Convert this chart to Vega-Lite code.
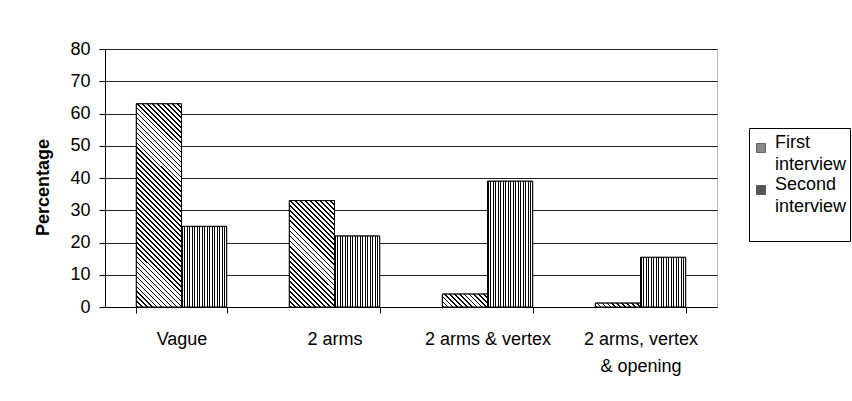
{
  "$schema": "https://vega.github.io/schema/vega-lite/v6.json",
  "width": 612,
  "height": 258,
  "autosize": {"type": "none"},
  "padding": {"left": 105, "top": 49, "right": 135, "bottom": 94},
  "background": "white",
  "config": {
    "font": "Liberation Sans",
    "view": {"stroke": "#b8b8b8"},
    "style": {"guide-label": {"lineHeight": 22}}
  },
  "data": {
    "values": [
      {"category": "Vague", "series": "First interview", "value": 63},
      {"category": "Vague", "series": "Second interview", "value": 25},
      {"category": "2 arms", "series": "First interview", "value": 33},
      {"category": "2 arms", "series": "Second interview", "value": 22},
      {"category": "2 arms & vertex", "series": "First interview", "value": 4},
      {"category": "2 arms & vertex", "series": "Second interview", "value": 39},
      {"category": "2 arms, vertex & opening", "series": "First interview", "value": 1.2},
      {"category": "2 arms, vertex & opening", "series": "Second interview", "value": 15.4}
    ]
  },
  "encoding": {
    "x": {
      "field": "category",
      "type": "nominal",
      "sort": ["Vague", "2 arms", "2 arms & vertex", "2 arms, vertex & opening"],
      "scale": {"paddingInner": 0.41, "paddingOuter": 0.205},
      "axis": {
        "title": null,
        "labelAngle": 0,
        "labelFontSize": 18,
        "labelColor": "black",
        "labelBaseline": "top",
        "labelPadding": 17,
        "labelLineHeight": 27,
        "labelExpr": "datum.label == '2 arms, vertex & opening' ? ['2 arms, vertex', '& opening'] : datum.label",
        "tickBand": "extent",
        "tickSize": 6,
        "tickColor": "black",
        "domainColor": "black"
      }
    },
    "xOffset": {"field": "series", "sort": ["First interview", "Second interview"]},
    "y": {
      "field": "value",
      "type": "quantitative",
      "scale": {"domain": [0, 80]},
      "axis": {
        "title": "Percentage",
        "titleFontSize": 18,
        "titleFontWeight": "bold",
        "titleColor": "black",
        "titleAngle": -90,
        "titleAlign": "center",
        "titleBaseline": "middle",
        "titleX": -62,
        "titleY": 138,
        "values": [0, 10, 20, 30, 40, 50, 60, 70, 80],
        "labelFontSize": 18,
        "labelColor": "black",
        "labelPadding": 9,
        "tickSize": 6,
        "tickColor": "black",
        "domainColor": "black",
        "gridColor": "#222",
        "gridWidth": 1
      }
    }
  },
  "layer": [
    {
      "mark": {"type": "bar", "stroke": "black", "strokeWidth": 1},
      "encoding": {
        "fill": {
          "field": "series",
          "type": "nominal",
          "sort": ["First interview", "Second interview"],
          "scale": {"range": ["#888888", "#555555"]},
          "legend": {
            "title": " ",
            "titleFontSize": 1,
            "titlePadding": 7,
            "orient": "none",
            "legendX": 644,
            "legendY": 79,
            "strokeColor": "black",
            "fillColor": "white",
            "padding": 3,
            "symbolType": "square",
            "symbolSize": 80,
            "symbolStrokeColor": "black",
            "symbolStrokeWidth": 0.5,
            "labelFontSize": 18,
            "labelColor": "black",
            "labelBaseline": "alphabetic",
            "labelOffset": 5,
            "rowPadding": 2,
            "labelExpr": "datum.label == 'Second interview' ? ['Second', 'interview', ''] : split(datum.label, ' ')"
          }
        }
      }
    },
    {
      "transform": [{"filter": "datum.series === 'Second interview'"}],
      "mark": {
        "type": "bar",
        "stroke": "black",
        "strokeWidth": 1,
        "fill": {
          "gradient": "linear",
          "x1": 0, "y1": 0, "x2": 1, "y2": 0,
          "stops": [
            {"offset": 0, "color": "#000"}, {"offset": 0.0278, "color": "#000"}, {"offset": 0.0278, "color": "#fff"}, {"offset": 0.0556, "color": "#fff"},
            {"offset": 0.0556, "color": "#000"}, {"offset": 0.0833, "color": "#000"}, {"offset": 0.0833, "color": "#fff"}, {"offset": 0.1111, "color": "#fff"},
            {"offset": 0.1111, "color": "#000"}, {"offset": 0.1389, "color": "#000"}, {"offset": 0.1389, "color": "#fff"}, {"offset": 0.1667, "color": "#fff"},
            {"offset": 0.1667, "color": "#000"}, {"offset": 0.1944, "color": "#000"}, {"offset": 0.1944, "color": "#fff"}, {"offset": 0.2222, "color": "#fff"},
            {"offset": 0.2222, "color": "#000"}, {"offset": 0.25, "color": "#000"}, {"offset": 0.25, "color": "#fff"}, {"offset": 0.2778, "color": "#fff"},
            {"offset": 0.2778, "color": "#000"}, {"offset": 0.3056, "color": "#000"}, {"offset": 0.3056, "color": "#fff"}, {"offset": 0.3333, "color": "#fff"},
            {"offset": 0.3333, "color": "#000"}, {"offset": 0.3611, "color": "#000"}, {"offset": 0.3611, "color": "#fff"}, {"offset": 0.3889, "color": "#fff"},
            {"offset": 0.3889, "color": "#000"}, {"offset": 0.4167, "color": "#000"}, {"offset": 0.4167, "color": "#fff"}, {"offset": 0.4444, "color": "#fff"},
            {"offset": 0.4444, "color": "#000"}, {"offset": 0.4722, "color": "#000"}, {"offset": 0.4722, "color": "#fff"}, {"offset": 0.5, "color": "#fff"},
            {"offset": 0.5, "color": "#000"}, {"offset": 0.5278, "color": "#000"}, {"offset": 0.5278, "color": "#fff"}, {"offset": 0.5556, "color": "#fff"},
            {"offset": 0.5556, "color": "#000"}, {"offset": 0.5833, "color": "#000"}, {"offset": 0.5833, "color": "#fff"}, {"offset": 0.6111, "color": "#fff"},
            {"offset": 0.6111, "color": "#000"}, {"offset": 0.6389, "color": "#000"}, {"offset": 0.6389, "color": "#fff"}, {"offset": 0.6667, "color": "#fff"},
            {"offset": 0.6667, "color": "#000"}, {"offset": 0.6944, "color": "#000"}, {"offset": 0.6944, "color": "#fff"}, {"offset": 0.7222, "color": "#fff"},
            {"offset": 0.7222, "color": "#000"}, {"offset": 0.75, "color": "#000"}, {"offset": 0.75, "color": "#fff"}, {"offset": 0.7778, "color": "#fff"},
            {"offset": 0.7778, "color": "#000"}, {"offset": 0.8056, "color": "#000"}, {"offset": 0.8056, "color": "#fff"}, {"offset": 0.8333, "color": "#fff"},
            {"offset": 0.8333, "color": "#000"}, {"offset": 0.8611, "color": "#000"}, {"offset": 0.8611, "color": "#fff"}, {"offset": 0.8889, "color": "#fff"},
            {"offset": 0.8889, "color": "#000"}, {"offset": 0.9167, "color": "#000"}, {"offset": 0.9167, "color": "#fff"}, {"offset": 0.9444, "color": "#fff"},
            {"offset": 0.9444, "color": "#000"}, {"offset": 0.9722, "color": "#000"}, {"offset": 0.9722, "color": "#fff"}, {"offset": 1, "color": "#fff"}
          ]
        }
      }
    },
    {
      "transform": [{"filter": "datum.series === 'First interview' && datum.category === 'Vague'"}],
      "mark": {
        "type": "bar",
        "stroke": "black",
        "strokeWidth": 1,
        "fill": {
          "gradient": "linear",
          "x1": 0, "y1": 1, "x2": 0.2585, "y2": -0.1647,
          "stops": [
            {"offset": 0, "color": "#000"}, {"offset": 0.007, "color": "#000"}, {"offset": 0.007, "color": "#fff"}, {"offset": 0.02, "color": "#fff"},
            {"offset": 0.02, "color": "#000"}, {"offset": 0.027, "color": "#000"}, {"offset": 0.027, "color": "#fff"}, {"offset": 0.04, "color": "#fff"},
            {"offset": 0.04, "color": "#000"}, {"offset": 0.047, "color": "#000"}, {"offset": 0.047, "color": "#fff"}, {"offset": 0.06, "color": "#fff"},
            {"offset": 0.06, "color": "#000"}, {"offset": 0.067, "color": "#000"}, {"offset": 0.067, "color": "#fff"}, {"offset": 0.08, "color": "#fff"},
            {"offset": 0.08, "color": "#000"}, {"offset": 0.087, "color": "#000"}, {"offset": 0.087, "color": "#fff"}, {"offset": 0.1, "color": "#fff"},
            {"offset": 0.1, "color": "#000"}, {"offset": 0.107, "color": "#000"}, {"offset": 0.107, "color": "#fff"}, {"offset": 0.12, "color": "#fff"},
            {"offset": 0.12, "color": "#000"}, {"offset": 0.127, "color": "#000"}, {"offset": 0.127, "color": "#fff"}, {"offset": 0.14, "color": "#fff"},
            {"offset": 0.14, "color": "#000"}, {"offset": 0.147, "color": "#000"}, {"offset": 0.147, "color": "#fff"}, {"offset": 0.16, "color": "#fff"},
            {"offset": 0.16, "color": "#000"}, {"offset": 0.167, "color": "#000"}, {"offset": 0.167, "color": "#fff"}, {"offset": 0.18, "color": "#fff"},
            {"offset": 0.18, "color": "#000"}, {"offset": 0.187, "color": "#000"}, {"offset": 0.187, "color": "#fff"}, {"offset": 0.2, "color": "#fff"},
            {"offset": 0.2, "color": "#000"}, {"offset": 0.207, "color": "#000"}, {"offset": 0.207, "color": "#fff"}, {"offset": 0.22, "color": "#fff"},
            {"offset": 0.22, "color": "#000"}, {"offset": 0.227, "color": "#000"}, {"offset": 0.227, "color": "#fff"}, {"offset": 0.24, "color": "#fff"},
            {"offset": 0.24, "color": "#000"}, {"offset": 0.247, "color": "#000"}, {"offset": 0.247, "color": "#fff"}, {"offset": 0.26, "color": "#fff"},
            {"offset": 0.26, "color": "#000"}, {"offset": 0.267, "color": "#000"}, {"offset": 0.267, "color": "#fff"}, {"offset": 0.28, "color": "#fff"},
            {"offset": 0.28, "color": "#000"}, {"offset": 0.287, "color": "#000"}, {"offset": 0.287, "color": "#fff"}, {"offset": 0.3, "color": "#fff"},
            {"offset": 0.3, "color": "#000"}, {"offset": 0.307, "color": "#000"}, {"offset": 0.307, "color": "#fff"}, {"offset": 0.32, "color": "#fff"},
            {"offset": 0.32, "color": "#000"}, {"offset": 0.327, "color": "#000"}, {"offset": 0.327, "color": "#fff"}, {"offset": 0.34, "color": "#fff"},
            {"offset": 0.34, "color": "#000"}, {"offset": 0.347, "color": "#000"}, {"offset": 0.347, "color": "#fff"}, {"offset": 0.36, "color": "#fff"},
            {"offset": 0.36, "color": "#000"}, {"offset": 0.367, "color": "#000"}, {"offset": 0.367, "color": "#fff"}, {"offset": 0.38, "color": "#fff"},
            {"offset": 0.38, "color": "#000"}, {"offset": 0.387, "color": "#000"}, {"offset": 0.387, "color": "#fff"}, {"offset": 0.4, "color": "#fff"},
            {"offset": 0.4, "color": "#000"}, {"offset": 0.407, "color": "#000"}, {"offset": 0.407, "color": "#fff"}, {"offset": 0.42, "color": "#fff"},
            {"offset": 0.42, "color": "#000"}, {"offset": 0.427, "color": "#000"}, {"offset": 0.427, "color": "#fff"}, {"offset": 0.44, "color": "#fff"},
            {"offset": 0.44, "color": "#000"}, {"offset": 0.447, "color": "#000"}, {"offset": 0.447, "color": "#fff"}, {"offset": 0.46, "color": "#fff"},
            {"offset": 0.46, "color": "#000"}, {"offset": 0.467, "color": "#000"}, {"offset": 0.467, "color": "#fff"}, {"offset": 0.48, "color": "#fff"},
            {"offset": 0.48, "color": "#000"}, {"offset": 0.487, "color": "#000"}, {"offset": 0.487, "color": "#fff"}, {"offset": 0.5, "color": "#fff"},
            {"offset": 0.5, "color": "#000"}, {"offset": 0.507, "color": "#000"}, {"offset": 0.507, "color": "#fff"}, {"offset": 0.52, "color": "#fff"},
            {"offset": 0.52, "color": "#000"}, {"offset": 0.527, "color": "#000"}, {"offset": 0.527, "color": "#fff"}, {"offset": 0.54, "color": "#fff"},
            {"offset": 0.54, "color": "#000"}, {"offset": 0.547, "color": "#000"}, {"offset": 0.547, "color": "#fff"}, {"offset": 0.56, "color": "#fff"},
            {"offset": 0.56, "color": "#000"}, {"offset": 0.567, "color": "#000"}, {"offset": 0.567, "color": "#fff"}, {"offset": 0.58, "color": "#fff"},
            {"offset": 0.58, "color": "#000"}, {"offset": 0.587, "color": "#000"}, {"offset": 0.587, "color": "#fff"}, {"offset": 0.6, "color": "#fff"},
            {"offset": 0.6, "color": "#000"}, {"offset": 0.607, "color": "#000"}, {"offset": 0.607, "color": "#fff"}, {"offset": 0.62, "color": "#fff"},
            {"offset": 0.62, "color": "#000"}, {"offset": 0.627, "color": "#000"}, {"offset": 0.627, "color": "#fff"}, {"offset": 0.64, "color": "#fff"},
            {"offset": 0.64, "color": "#000"}, {"offset": 0.647, "color": "#000"}, {"offset": 0.647, "color": "#fff"}, {"offset": 0.66, "color": "#fff"},
            {"offset": 0.66, "color": "#000"}, {"offset": 0.667, "color": "#000"}, {"offset": 0.667, "color": "#fff"}, {"offset": 0.68, "color": "#fff"},
            {"offset": 0.68, "color": "#000"}, {"offset": 0.687, "color": "#000"}, {"offset": 0.687, "color": "#fff"}, {"offset": 0.7, "color": "#fff"},
            {"offset": 0.7, "color": "#000"}, {"offset": 0.707, "color": "#000"}, {"offset": 0.707, "color": "#fff"}, {"offset": 0.72, "color": "#fff"},
            {"offset": 0.72, "color": "#000"}, {"offset": 0.727, "color": "#000"}, {"offset": 0.727, "color": "#fff"}, {"offset": 0.74, "color": "#fff"},
            {"offset": 0.74, "color": "#000"}, {"offset": 0.747, "color": "#000"}, {"offset": 0.747, "color": "#fff"}, {"offset": 0.76, "color": "#fff"},
            {"offset": 0.76, "color": "#000"}, {"offset": 0.767, "color": "#000"}, {"offset": 0.767, "color": "#fff"}, {"offset": 0.78, "color": "#fff"},
            {"offset": 0.78, "color": "#000"}, {"offset": 0.787, "color": "#000"}, {"offset": 0.787, "color": "#fff"}, {"offset": 0.8, "color": "#fff"},
            {"offset": 0.8, "color": "#000"}, {"offset": 0.807, "color": "#000"}, {"offset": 0.807, "color": "#fff"}, {"offset": 0.82, "color": "#fff"},
            {"offset": 0.82, "color": "#000"}, {"offset": 0.827, "color": "#000"}, {"offset": 0.827, "color": "#fff"}, {"offset": 0.84, "color": "#fff"},
            {"offset": 0.84, "color": "#000"}, {"offset": 0.847, "color": "#000"}, {"offset": 0.847, "color": "#fff"}, {"offset": 0.86, "color": "#fff"},
            {"offset": 0.86, "color": "#000"}, {"offset": 0.867, "color": "#000"}, {"offset": 0.867, "color": "#fff"}, {"offset": 0.88, "color": "#fff"},
            {"offset": 0.88, "color": "#000"}, {"offset": 0.887, "color": "#000"}, {"offset": 0.887, "color": "#fff"}, {"offset": 0.9, "color": "#fff"},
            {"offset": 0.9, "color": "#000"}, {"offset": 0.907, "color": "#000"}, {"offset": 0.907, "color": "#fff"}, {"offset": 0.92, "color": "#fff"},
            {"offset": 0.92, "color": "#000"}, {"offset": 0.927, "color": "#000"}, {"offset": 0.927, "color": "#fff"}, {"offset": 0.94, "color": "#fff"},
            {"offset": 0.94, "color": "#000"}, {"offset": 0.947, "color": "#000"}, {"offset": 0.947, "color": "#fff"}, {"offset": 0.96, "color": "#fff"},
            {"offset": 0.96, "color": "#000"}, {"offset": 0.967, "color": "#000"}, {"offset": 0.967, "color": "#fff"}, {"offset": 0.98, "color": "#fff"},
            {"offset": 0.98, "color": "#000"}, {"offset": 0.987, "color": "#000"}, {"offset": 0.987, "color": "#fff"}, {"offset": 1, "color": "#fff"}
          ]
        }
      }
    },
    {
      "transform": [{"filter": "datum.series === 'First interview' && datum.category === '2 arms'"}],
      "mark": {
        "type": "bar",
        "stroke": "black",
        "strokeWidth": 1,
        "fill": {
          "gradient": "linear",
          "x1": 0, "y1": 1, "x2": 0.5116, "y2": -0.207,
          "stops": [
            {"offset": 0, "color": "#000"}, {"offset": 0.0117, "color": "#000"}, {"offset": 0.0117, "color": "#fff"}, {"offset": 0.0333, "color": "#fff"},
            {"offset": 0.0333, "color": "#000"}, {"offset": 0.045, "color": "#000"}, {"offset": 0.045, "color": "#fff"}, {"offset": 0.0667, "color": "#fff"},
            {"offset": 0.0667, "color": "#000"}, {"offset": 0.0784, "color": "#000"}, {"offset": 0.0784, "color": "#fff"}, {"offset": 0.1, "color": "#fff"},
            {"offset": 0.1, "color": "#000"}, {"offset": 0.1117, "color": "#000"}, {"offset": 0.1117, "color": "#fff"}, {"offset": 0.1333, "color": "#fff"},
            {"offset": 0.1333, "color": "#000"}, {"offset": 0.145, "color": "#000"}, {"offset": 0.145, "color": "#fff"}, {"offset": 0.1667, "color": "#fff"},
            {"offset": 0.1667, "color": "#000"}, {"offset": 0.1784, "color": "#000"}, {"offset": 0.1784, "color": "#fff"}, {"offset": 0.2, "color": "#fff"},
            {"offset": 0.2, "color": "#000"}, {"offset": 0.2117, "color": "#000"}, {"offset": 0.2117, "color": "#fff"}, {"offset": 0.2333, "color": "#fff"},
            {"offset": 0.2333, "color": "#000"}, {"offset": 0.245, "color": "#000"}, {"offset": 0.245, "color": "#fff"}, {"offset": 0.2667, "color": "#fff"},
            {"offset": 0.2667, "color": "#000"}, {"offset": 0.2784, "color": "#000"}, {"offset": 0.2784, "color": "#fff"}, {"offset": 0.3, "color": "#fff"},
            {"offset": 0.3, "color": "#000"}, {"offset": 0.3117, "color": "#000"}, {"offset": 0.3117, "color": "#fff"}, {"offset": 0.3333, "color": "#fff"},
            {"offset": 0.3333, "color": "#000"}, {"offset": 0.345, "color": "#000"}, {"offset": 0.345, "color": "#fff"}, {"offset": 0.3667, "color": "#fff"},
            {"offset": 0.3667, "color": "#000"}, {"offset": 0.3784, "color": "#000"}, {"offset": 0.3784, "color": "#fff"}, {"offset": 0.4, "color": "#fff"},
            {"offset": 0.4, "color": "#000"}, {"offset": 0.4117, "color": "#000"}, {"offset": 0.4117, "color": "#fff"}, {"offset": 0.4333, "color": "#fff"},
            {"offset": 0.4333, "color": "#000"}, {"offset": 0.445, "color": "#000"}, {"offset": 0.445, "color": "#fff"}, {"offset": 0.4667, "color": "#fff"},
            {"offset": 0.4667, "color": "#000"}, {"offset": 0.4784, "color": "#000"}, {"offset": 0.4784, "color": "#fff"}, {"offset": 0.5, "color": "#fff"},
            {"offset": 0.5, "color": "#000"}, {"offset": 0.5117, "color": "#000"}, {"offset": 0.5117, "color": "#fff"}, {"offset": 0.5333, "color": "#fff"},
            {"offset": 0.5333, "color": "#000"}, {"offset": 0.545, "color": "#000"}, {"offset": 0.545, "color": "#fff"}, {"offset": 0.5667, "color": "#fff"},
            {"offset": 0.5667, "color": "#000"}, {"offset": 0.5784, "color": "#000"}, {"offset": 0.5784, "color": "#fff"}, {"offset": 0.6, "color": "#fff"},
            {"offset": 0.6, "color": "#000"}, {"offset": 0.6117, "color": "#000"}, {"offset": 0.6117, "color": "#fff"}, {"offset": 0.6333, "color": "#fff"},
            {"offset": 0.6333, "color": "#000"}, {"offset": 0.645, "color": "#000"}, {"offset": 0.645, "color": "#fff"}, {"offset": 0.6667, "color": "#fff"},
            {"offset": 0.6667, "color": "#000"}, {"offset": 0.6784, "color": "#000"}, {"offset": 0.6784, "color": "#fff"}, {"offset": 0.7, "color": "#fff"},
            {"offset": 0.7, "color": "#000"}, {"offset": 0.7117, "color": "#000"}, {"offset": 0.7117, "color": "#fff"}, {"offset": 0.7333, "color": "#fff"},
            {"offset": 0.7333, "color": "#000"}, {"offset": 0.745, "color": "#000"}, {"offset": 0.745, "color": "#fff"}, {"offset": 0.7667, "color": "#fff"},
            {"offset": 0.7667, "color": "#000"}, {"offset": 0.7784, "color": "#000"}, {"offset": 0.7784, "color": "#fff"}, {"offset": 0.8, "color": "#fff"},
            {"offset": 0.8, "color": "#000"}, {"offset": 0.8117, "color": "#000"}, {"offset": 0.8117, "color": "#fff"}, {"offset": 0.8333, "color": "#fff"},
            {"offset": 0.8333, "color": "#000"}, {"offset": 0.845, "color": "#000"}, {"offset": 0.845, "color": "#fff"}, {"offset": 0.8667, "color": "#fff"},
            {"offset": 0.8667, "color": "#000"}, {"offset": 0.8784, "color": "#000"}, {"offset": 0.8784, "color": "#fff"}, {"offset": 0.9, "color": "#fff"},
            {"offset": 0.9, "color": "#000"}, {"offset": 0.9117, "color": "#000"}, {"offset": 0.9117, "color": "#fff"}, {"offset": 0.9333, "color": "#fff"},
            {"offset": 0.9333, "color": "#000"}, {"offset": 0.945, "color": "#000"}, {"offset": 0.945, "color": "#fff"}, {"offset": 0.9667, "color": "#fff"},
            {"offset": 0.9667, "color": "#000"}, {"offset": 0.9784, "color": "#000"}, {"offset": 0.9784, "color": "#fff"}, {"offset": 1, "color": "#fff"}
          ]
        }
      }
    },
    {
      "transform": [{"filter": "datum.series === 'First interview' && datum.category === '2 arms & vertex'"}],
      "mark": {
        "type": "bar",
        "stroke": "black",
        "strokeWidth": 1,
        "fill": {
          "gradient": "linear",
          "x1": 0, "y1": 1, "x2": 1.1888, "y2": 0.66,
          "stops": [
            {"offset": 0, "color": "#000"}, {"offset": 0.0292, "color": "#000"}, {"offset": 0.0292, "color": "#fff"}, {"offset": 0.0833, "color": "#fff"},
            {"offset": 0.0833, "color": "#000"}, {"offset": 0.1125, "color": "#000"}, {"offset": 0.1125, "color": "#fff"}, {"offset": 0.1667, "color": "#fff"},
            {"offset": 0.1667, "color": "#000"}, {"offset": 0.1959, "color": "#000"}, {"offset": 0.1959, "color": "#fff"}, {"offset": 0.25, "color": "#fff"},
            {"offset": 0.25, "color": "#000"}, {"offset": 0.2792, "color": "#000"}, {"offset": 0.2792, "color": "#fff"}, {"offset": 0.3333, "color": "#fff"},
            {"offset": 0.3333, "color": "#000"}, {"offset": 0.3625, "color": "#000"}, {"offset": 0.3625, "color": "#fff"}, {"offset": 0.4167, "color": "#fff"},
            {"offset": 0.4167, "color": "#000"}, {"offset": 0.4459, "color": "#000"}, {"offset": 0.4459, "color": "#fff"}, {"offset": 0.5, "color": "#fff"},
            {"offset": 0.5, "color": "#000"}, {"offset": 0.5292, "color": "#000"}, {"offset": 0.5292, "color": "#fff"}, {"offset": 0.5833, "color": "#fff"},
            {"offset": 0.5833, "color": "#000"}, {"offset": 0.6125, "color": "#000"}, {"offset": 0.6125, "color": "#fff"}, {"offset": 0.6667, "color": "#fff"},
            {"offset": 0.6667, "color": "#000"}, {"offset": 0.6959, "color": "#000"}, {"offset": 0.6959, "color": "#fff"}, {"offset": 0.75, "color": "#fff"},
            {"offset": 0.75, "color": "#000"}, {"offset": 0.7792, "color": "#000"}, {"offset": 0.7792, "color": "#fff"}, {"offset": 0.8333, "color": "#fff"},
            {"offset": 0.8333, "color": "#000"}, {"offset": 0.8625, "color": "#000"}, {"offset": 0.8625, "color": "#fff"}, {"offset": 0.9167, "color": "#fff"},
            {"offset": 0.9167, "color": "#000"}, {"offset": 0.9459, "color": "#000"}, {"offset": 0.9459, "color": "#fff"}, {"offset": 1, "color": "#fff"}
          ]
        }
      }
    },
    {
      "transform": [{"filter": "datum.series === 'First interview' && datum.category === '2 arms, vertex & opening'"}],
      "mark": {
        "type": "bar",
        "stroke": "black",
        "strokeWidth": 1,
        "fill": {
          "gradient": "linear",
          "x1": 0, "y1": 1, "x2": 1.0786, "y2": 0.9067,
          "stops": [
            {"offset": 0, "color": "#000"}, {"offset": 0.035, "color": "#000"}, {"offset": 0.035, "color": "#fff"}, {"offset": 0.1, "color": "#fff"},
            {"offset": 0.1, "color": "#000"}, {"offset": 0.135, "color": "#000"}, {"offset": 0.135, "color": "#fff"}, {"offset": 0.2, "color": "#fff"},
            {"offset": 0.2, "color": "#000"}, {"offset": 0.235, "color": "#000"}, {"offset": 0.235, "color": "#fff"}, {"offset": 0.3, "color": "#fff"},
            {"offset": 0.3, "color": "#000"}, {"offset": 0.335, "color": "#000"}, {"offset": 0.335, "color": "#fff"}, {"offset": 0.4, "color": "#fff"},
            {"offset": 0.4, "color": "#000"}, {"offset": 0.435, "color": "#000"}, {"offset": 0.435, "color": "#fff"}, {"offset": 0.5, "color": "#fff"},
            {"offset": 0.5, "color": "#000"}, {"offset": 0.535, "color": "#000"}, {"offset": 0.535, "color": "#fff"}, {"offset": 0.6, "color": "#fff"},
            {"offset": 0.6, "color": "#000"}, {"offset": 0.635, "color": "#000"}, {"offset": 0.635, "color": "#fff"}, {"offset": 0.7, "color": "#fff"},
            {"offset": 0.7, "color": "#000"}, {"offset": 0.735, "color": "#000"}, {"offset": 0.735, "color": "#fff"}, {"offset": 0.8, "color": "#fff"},
            {"offset": 0.8, "color": "#000"}, {"offset": 0.835, "color": "#000"}, {"offset": 0.835, "color": "#fff"}, {"offset": 0.9, "color": "#fff"},
            {"offset": 0.9, "color": "#000"}, {"offset": 0.935, "color": "#000"}, {"offset": 0.935, "color": "#fff"}, {"offset": 1, "color": "#fff"}
          ]
        }
      }
    }
  ]
}
